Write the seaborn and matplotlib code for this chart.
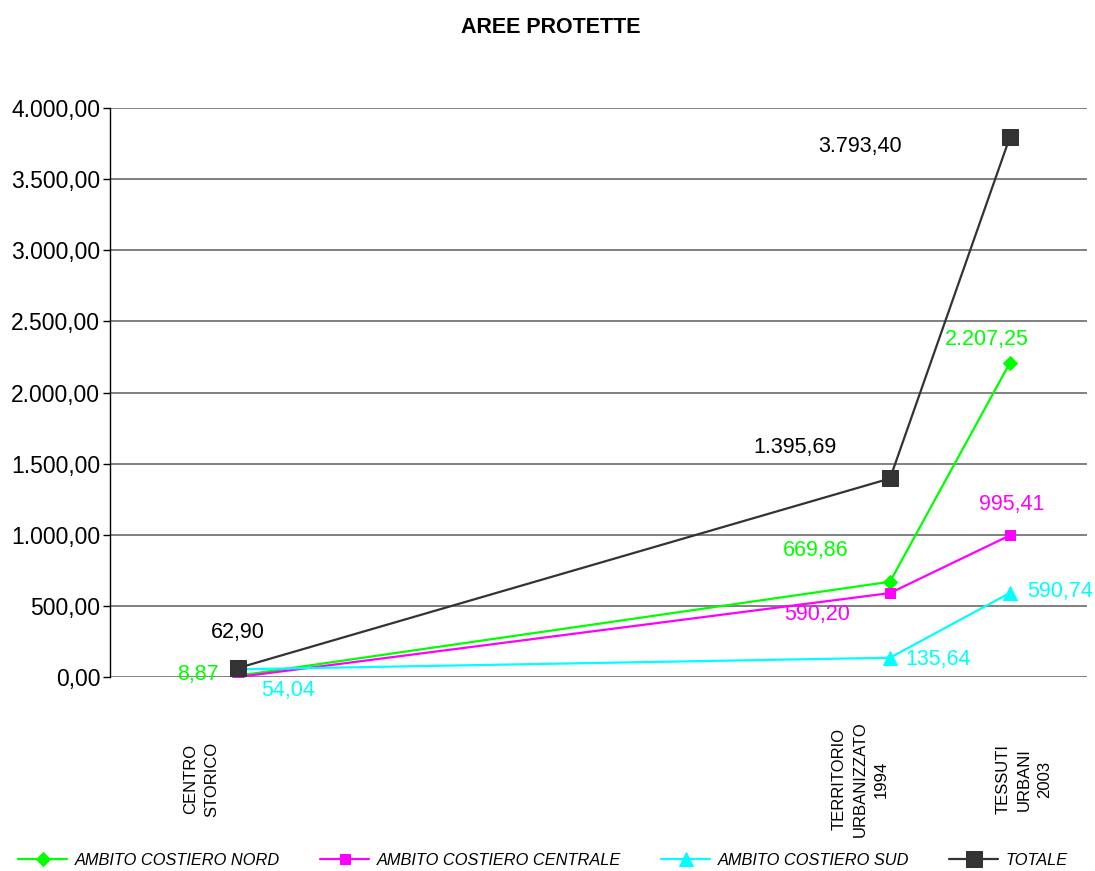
import pandas as pd
import seaborn as sns
import matplotlib.transforms as mtransforms
from matplotlib import pyplot as plt
from matplotlib.ticker import FuncFormatter


def fmt_it(value, pos=None):
    # 3793.4 -> "3.793,40"
    return "{:,.2f}".format(value).replace(",", "X").replace(".", ",").replace("X", ".")


# x positions (years-like scale, non uniform as in the original)
x_pos = [1945, 1994, 2003]
x_labels = ["CENTRO\nSTORICO", "TERRITORIO\nURBANIZZATO\n1994", "TESSUTI\nURBANI\n2003"]
x_label_shift = [-37, -30, 14]  # pixels, labels are not centred on their point

nord = [8.87, 669.86, 2207.25]
centrale = [0.0, 590.20, 995.41]
sud = [54.04, 135.64, 590.74]
totale = [62.90, 1395.69, 3793.40]

series_names = ["AMBITO COSTIERO NORD", "AMBITO COSTIERO CENTRALE", "AMBITO COSTIERO SUD", "TOTALE"]
series_values = [nord, centrale, sud, totale]
colors = ["#00FF00", "#FF00FF", "#00FFFF", "#333333"]
label_colors = ["#00FF00", "#FF00FF", "#00FFFF", "black"]
markers = ["D", "s", "^", "s"]
marker_sizes = [7, 7, 10, 12]

# label offsets in pixels (dx, dy) for every point, per series
label_offsets = [
    [(-40, 1), (-74, 31), (-23, 24)],
    [(0, 0), (-73, -21), (2, 31)],
    [(50, -21), (48, -2), (50, 1)],
    [(0, 36), (-95, 31), (-150, -9)],
]

if __name__ == "__main__":
    sns.set_style("white")
    plt.rcParams["font.family"] = ["Liberation Sans", "DejaVu Sans"]
    plt.rcParams["text.color"] = "black"

    fig = plt.figure(figsize=(10.95, 8.71), dpi=100)
    ax = fig.add_axes([0.1005, 0.2227, 0.8922, 0.6533])

    for name, vals, col, lcol, mk, ms, offs in zip(series_names, series_values, colors, label_colors,
                                                    markers, marker_sizes, label_offsets):
        df = pd.DataFrame({"x": x_pos, "y": vals})
        sns.lineplot(data=df, x="x", y="y", ax=ax, color=col, marker=mk, markersize=ms,
                     markeredgecolor=col, linewidth=1.6, label=name)
        for xv, yv, (dx, dy) in zip(x_pos, vals, offs):
            if name == "AMBITO COSTIERO CENTRALE" and yv == 0:
                continue
            ax.annotate(fmt_it(yv), xy=(xv, yv), xytext=(dx, dy), textcoords="offset pixels",
                        ha="center", va="center", fontsize=15.5, color=lcol)

    ax.set_xlim(1935.4, 2008.8)
    ax.set_ylim(0, 4000)
    ax.set_yticks(range(0, 4001, 500))
    ax.yaxis.set_major_formatter(FuncFormatter(fmt_it))
    ax.grid(axis="y", color="#808080", linewidth=1.4)
    ax.set_axisbelow(True)
    for side in ["top", "right", "bottom"]:
        ax.spines[side].set_visible(False)
    ax.spines["left"].set_color("black")
    ax.spines["left"].set_linewidth(1.0)
    ax.tick_params(axis="y", left=True, length=5, width=1, pad=2, labelsize=16.5, colors="black")

    ax.set_xticks(x_pos)
    ax.set_xticklabels(x_labels, rotation=90, va="center", ha="center", fontsize=12,
                       linespacing=1.5, color="black")
    ax.tick_params(axis="x", bottom=False, pad=70)
    for lbl, shift in zip(ax.get_xticklabels(), x_label_shift):
        lbl.set_transform(lbl.get_transform() + mtransforms.ScaledTranslation(shift / 100, 0, fig.dpi_scale_trans))
    ax.set_xlabel("")
    ax.set_ylabel("")

    fig.suptitle("AREE PROTETTE", x=0.503, y=0.981, fontsize=15.5, fontweight="bold", color="black")

    ax.get_legend().remove()
    handles, labels = ax.get_legend_handles_labels()
    fig.legend(handles, labels, loc="center", bbox_to_anchor=(0.496, 0.012), ncol=4,
               frameon=False, prop={"style": "italic", "size": 11.8}, handlelength=3.0,
               columnspacing=2.45, handletextpad=0.45, labelcolor="black")

    plt.savefig("out.png", dpi=100)
